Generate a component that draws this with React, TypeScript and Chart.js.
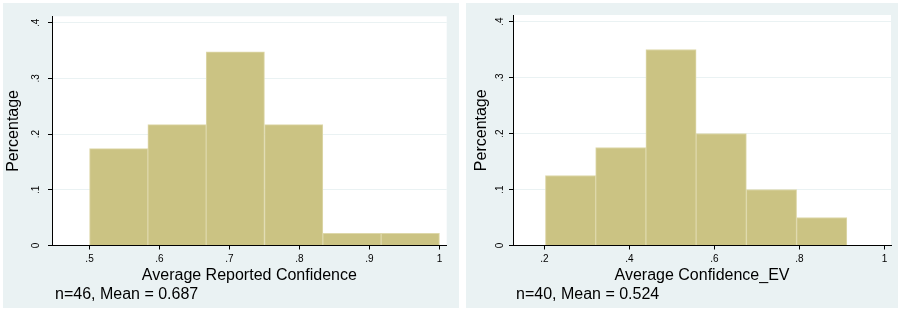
import React, { useEffect, useRef } from "react";
import { Chart, registerables } from "chart.js";

Chart.register(...registerables);

// ---- data ----
const leftBinCenters = [0.5417, 0.625, 0.7083, 0.7917, 0.875, 0.9583];
const leftPercent = [0.174, 0.217, 0.348, 0.217, 0.0217, 0.0217];
const leftXTicks = [0.5, 0.6, 0.7, 0.8, 0.9, 1];

const rightBinCenters = [0.2613, 0.3795, 0.4977, 0.6159, 0.7341, 0.8523];
const rightPercent = [0.125, 0.175, 0.35, 0.2, 0.1, 0.05];
const rightXTicks = [0.2, 0.4, 0.6, 0.8, 1];

const yTicks = [0, 0.1, 0.2, 0.3, 0.4];

const leftXTitle = "Average Reported Confidence";
const rightXTitle = "Average Confidence_EV";
const yTitle = "Percentage";
const leftNote = "n=46, Mean = 0.687";
const rightNote = "n=40, Mean = 0.524";

// ---- styles ----
const FONT = "'Liberation Sans', Arial, Helvetica, sans-serif";
const PANEL_BG = "rgb(234,242,243)";
const BAR_FILL = "rgb(203,195,131)";
const BAR_EDGE = "rgb(222,216,170)";

const fmt = (v: number) => {
  const s = String(+v.toFixed(2));
  return s.replace(/^0\./, ".");
};

interface PanelProps {
  width: number;
  height: number;
  centers: number[];
  values: number[];
  xTicks: number[];
  xMin: number;
  xMax: number;
  xTitle: string;
  note: string;
  yAxisWidth: number;
  yTitlePad: number;
  yTickPad: number;
  padRight: number;
}

const plotBg = {
  id: "plotBg",
  beforeDraw(chart: any) {
    const { ctx, chartArea } = chart;
    ctx.save();
    ctx.fillStyle = "#ffffff";
    ctx.fillRect(
      chartArea.left,
      chartArea.top,
      chartArea.right - chartArea.left,
      chartArea.bottom - chartArea.top
    );
    ctx.restore();
  },
};

const noteShift = {
  id: "noteShift",
  afterLayout(chart: any) {
    const tb = chart.titleBlock;
    if (tb) {
      tb.left += 3;
      tb.right += 3;
    }
  },
};

function Panel(p: PanelProps) {
  const ref = useRef<HTMLCanvasElement | null>(null);
  useEffect(() => {
    if (!ref.current) return;
    const chart = new Chart(ref.current, {
      type: "bar",
      data: {
        datasets: [
          {
            data: p.centers.map((x, i) => ({ x, y: p.values[i] })),
            backgroundColor: BAR_FILL,
            borderColor: BAR_EDGE,
            borderWidth: 1,
            barPercentage: 1,
            categoryPercentage: 1,
          } as any,
        ],
      },
      options: {
        animation: false,
        responsive: false,
        maintainAspectRatio: false,
        layout: { padding: { top: 12, right: p.padRight, left: 0, bottom: 0 } },
        plugins: {
          legend: { display: false },
          tooltip: { enabled: false },
          title: {
            display: true,
            text: p.note,
            position: "bottom",
            align: "start",
            fullSize: false,
            color: "#000",
            font: { family: FONT, size: 16, weight: "normal", lineHeight: 1.2 },
            padding: { top: 0, bottom: 3.7 },
          },
        },
        scales: {
          x: {
            type: "linear",
            min: p.xMin,
            max: p.xMax,
            offset: false,
            afterBuildTicks: (s: any) => {
              s.ticks = p.xTicks.map((v) => ({ value: v }));
            },
            afterFit: (s: any) => {
              s.height = 39.6;
            },
            grid: {
              offset: false,
              drawOnChartArea: false,
              drawTicks: true,
              tickLength: 4,
              color: "#000",
              tickColor: "#000",
            },
            border: { display: true, color: "#000", width: 1, z: 1 },
            ticks: {
              autoSkip: false,
              maxRotation: 0,
              minRotation: 0,
              padding: 3.8,
              color: "#000",
              font: { family: FONT, size: 10, lineHeight: 1.2 },
              callback: (v: any) => fmt(Number(v)),
            },
            title: {
              display: true,
              text: p.xTitle,
              color: "#000",
              font: { family: FONT, size: 16, lineHeight: 1.2 },
              padding: { top: 0, bottom: 0 },
            },
          },
          y: {
            type: "linear",
            min: 0,
            max: 0.4116,
            afterBuildTicks: (s: any) => {
              s.ticks = yTicks.map((v) => ({ value: v }));
            },
            afterFit: (s: any) => {
              s.width = p.yAxisWidth;
            },
            grid: {
              drawOnChartArea: true,
              drawTicks: true,
              tickLength: 4,
              color: (c: any) =>
                c.tick && c.tick.value === 0 ? "rgba(0,0,0,0)" : PANEL_BG,
              tickColor: "#000",
            },
            border: { display: true, color: "#000", width: 1, z: 1 },
            ticks: {
              autoSkip: false,
              minRotation: 90,
              maxRotation: 90,
              crossAlign: "center",
              padding: p.yTickPad,
              color: "#000",
              font: { family: FONT, size: 10, lineHeight: 1.2 },
              callback: (v: any) => fmt(Number(v)),
            },
            title: {
              display: true,
              text: yTitle,
              color: "#000",
              font: { family: FONT, size: 16, lineHeight: 1.2 },
              padding: { top: p.yTitlePad, bottom: 0 },
            },
          },
        },
      } as any,
      plugins: [plotBg, noteShift],
    });
    return () => chart.destroy();
  }, []);
  return (
    <canvas
      ref={ref}
      width={p.width}
      height={p.height}
      style={{ width: p.width, height: p.height, display: "block" }}
    />
  );
}

export default function App() {
  return (
    <div
      style={{
        position: "fixed",
        left: 0,
        top: 0,
        width: 898,
        height: 309,
        background: "#ffffff",
        overflow: "hidden",
      }}
    >
      <div
        style={{
          position: "absolute",
          left: 3,
          top: 3,
          width: 456,
          height: 305,
          background: PANEL_BG,
        }}
      >
        <Panel
          width={456}
          height={305}
          centers={leftBinCenters}
          values={leftPercent}
          xTicks={leftXTicks}
          xMin={0.4464}
          xMax={1.0103}
          xTitle={leftXTitle}
          note={leftNote}
          yAxisWidth={49}
          yTitlePad={1.1}
          yTickPad={7.3}
          padRight={12.3}
        />
      </div>
      <div
        style={{
          position: "absolute",
          left: 466,
          top: 3,
          width: 432,
          height: 305,
          background: PANEL_BG,
        }}
      >
        <Panel
          width={432}
          height={305}
          centers={rightBinCenters}
          values={rightPercent}
          xTicks={rightXTicks}
          xMin={0.1259}
          xMax={1.0153}
          xTitle={rightXTitle}
          note={rightNote}
          yAxisWidth={47}
          yTitlePad={5.7}
          yTickPad={4.5}
          padRight={7}
        />
      </div>
    </div>
  );
}
